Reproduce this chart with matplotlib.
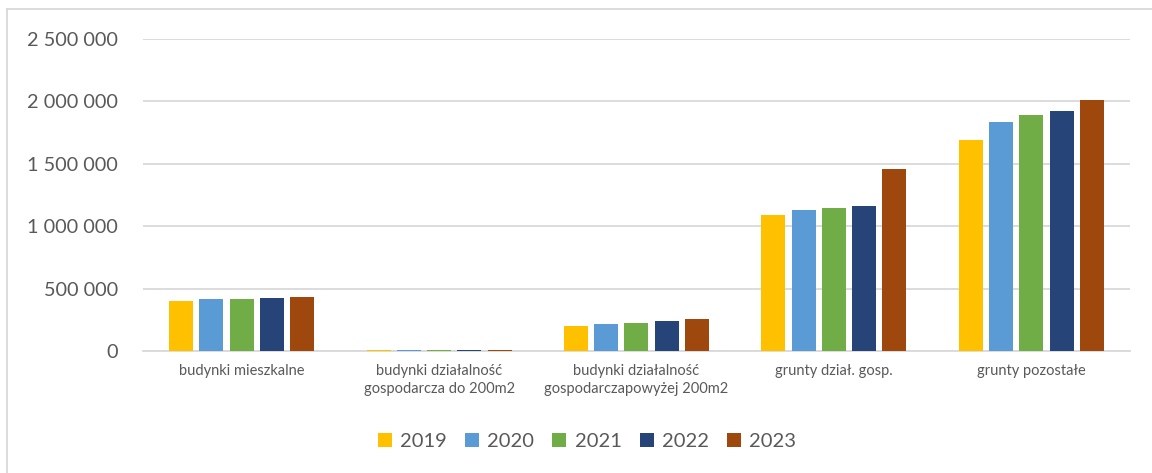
import matplotlib
matplotlib.use('Agg')
import matplotlib.pyplot as plt
import numpy as np
from matplotlib.lines import Line2D
from matplotlib.ticker import FuncFormatter

# dane
categories = ['budynki mieszkalne',
              'budynki działalność\ngospodarcza do 200m2',
              'budynki działalność\ngospodarczapowyżej 200m2',
              'grunty dział. gosp.',
              'grunty pozostałe']
years = ['2019', '2020', '2021', '2022', '2023']
v2019 = [398000, 9000, 198000, 1090000, 1693000]
v2020 = [414000, 8000, 219000, 1130000, 1832000]
v2021 = [417000, 8000, 222000, 1143000, 1888000]
v2022 = [425000, 8500, 240000, 1160000, 1925000]
v2023 = [430000, 8000, 254000, 1458000, 2010000]
colors = ['#ffc000', '#5b9bd5', '#70ad47', '#264478', '#9e480e']

plt.rcParams['font.family'] = ['Lato', 'DejaVu Sans']
txt = '#595959'
grid = '#d9d9d9'

fig = plt.figure(figsize=(11.52, 4.73), dpi=100)
ax = fig.add_axes([0.1241, 0.2579, 0.8568, 0.6596])

x = np.arange(len(categories))
slot = 0.1532
w = 0.1216
for i, (yr, vals) in enumerate(zip(years, [v2019, v2020, v2021, v2022, v2023])):
    ax.bar(x + (i - 2) * slot, vals, width=w, color=colors[i],
           linewidth=0, label=yr, zorder=3)

ax.set_xlim(-0.5, len(categories) - 0.5)
ax.set_ylim(0, 2500000)
ax.set_yticks(np.arange(0, 2500001, 500000))
ax.yaxis.set_major_formatter(FuncFormatter(lambda v, p: f'{int(v):,}'.replace(',', ' ')))
ax.grid(axis='y', color=grid, linewidth=1.3, zorder=0)
for s in ['top', 'right', 'left']:
    ax.spines[s].set_visible(False)
ax.spines['bottom'].set_color(grid)
ax.spines['bottom'].set_linewidth(1.3)
ax.tick_params(axis='y', length=0, pad=18, labelsize=14.3, labelcolor=txt)
ax.tick_params(axis='x', length=0, pad=9, labelsize=10.5, labelcolor=txt)
ax.set_xticks(x)
ax.set_xticklabels(categories, linespacing=1.4)

leg = ax.legend(loc='center', bbox_to_anchor=(587 / 1152, 1 - 441.7 / 473),
                bbox_transform=fig.transFigure, ncol=5, frameon=False,
                fontsize=14.5, handlelength=0.7, handleheight=0.7,
                handletextpad=0.4, columnspacing=0.9)
for t in leg.get_texts():
    t.set_color(txt)

# ramka wykresu
fig.add_artist(Line2D([7 / 1152, 7 / 1152], [0, 1 - 9 / 473], color=grid, linewidth=1.3))
fig.add_artist(Line2D([7 / 1152, 1], [1 - 9 / 473, 1 - 9 / 473], color=grid, linewidth=1.3))

fig.savefig('out.png', dpi=100)
